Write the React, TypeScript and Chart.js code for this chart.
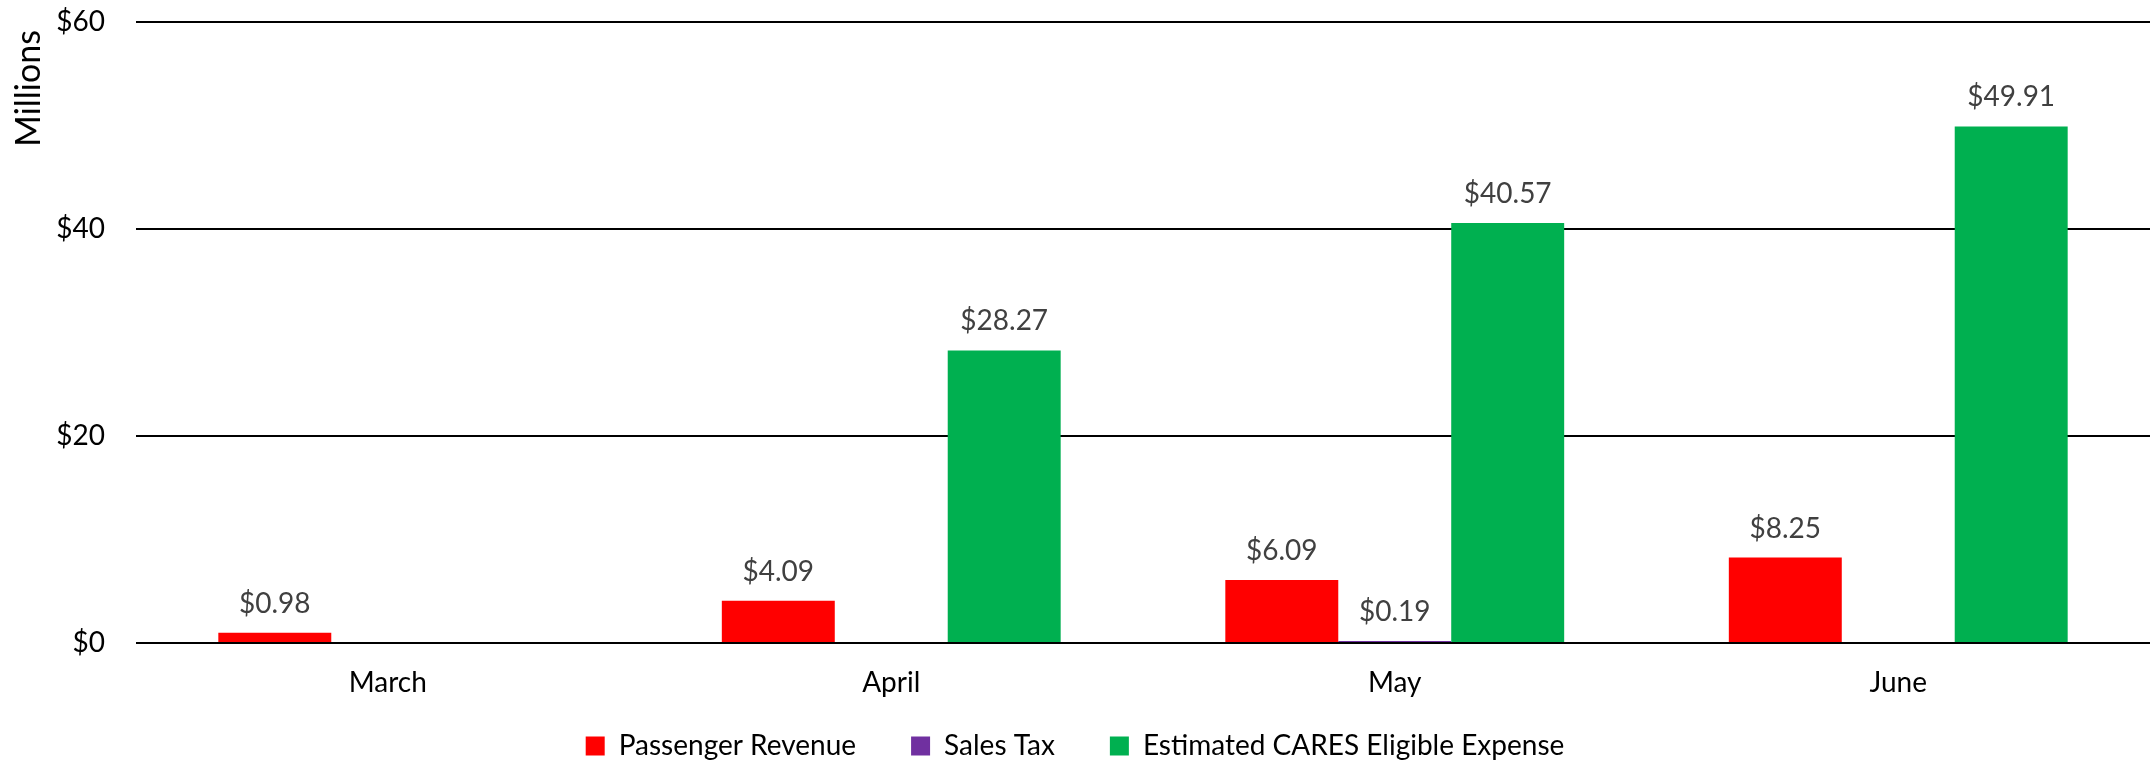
import React, { useEffect, useRef } from "react";
import { Chart, registerables } from "chart.js";

Chart.register(...registerables);

const categories = ["March", "April", "May", "June"];
const passengerRevenue = [0.98, 4.09, 6.09, 8.25];
const salesTax = [null, null, 0.19, null];
const caresExpense = [null, 28.27, 40.57, 49.91];
const seriesNames = ["Passenger Revenue", "Sales Tax", "Estimated CARES Eligible Expense"];
const seriesColors = ["#FF0000", "#7030A0", "#00B050"];
const yMin = 0;
const yMax = 60;
const yStep = 20;
const yTitle = "Millions";

const FONT = "Lato";
const W = 2153;
const H = 767;

const valueLabels = {
  id: "valueLabels",
  afterDatasetsDraw(chart: any) {
    const ctx = chart.ctx;
    ctx.save();
    ctx.font = `28px ${FONT}`;
    ctx.fillStyle = "#404040";
    ctx.textAlign = "center";
    ctx.textBaseline = "alphabetic";
    chart.data.datasets.forEach((ds: any, i: number) => {
      const meta = chart.getDatasetMeta(i);
      meta.data.forEach((bar: any, j: number) => {
        const v = ds.data[j];
        if (v == null) return;
        ctx.fillText("$" + Number(v).toFixed(2), bar.x, bar.y - 20);
      });
    });
    ctx.restore();
  },
};

const axisTitle = {
  id: "axisTitle",
  afterLayout(chart: any) {
    // let the category labels draw below the (shortened) x-axis box without clipping
    const xs = chart.scales.x;
    if (xs) xs.bottom = xs.top + 70;
  },
  afterDraw(chart: any) {
    const ctx = chart.ctx;
    ctx.save();
    ctx.translate(29, chart.chartArea.top + 8);
    ctx.rotate(-Math.PI / 2);
    ctx.font = `34px ${FONT}`;
    ctx.fillStyle = "#000";
    ctx.textAlign = "right";
    ctx.textBaseline = "middle";
    ctx.fillText(yTitle, 0, 0);
    ctx.restore();
  },
};

export default function App() {
  const ref = useRef<HTMLCanvasElement | null>(null);

  useEffect(() => {
    document.body.style.margin = "0";
    const canvas = ref.current;
    if (!canvas) return;
    const seriesData = [passengerRevenue, salesTax, caresExpense];
    const chart = new Chart(canvas, {
      type: "bar",
      data: {
        labels: categories,
        datasets: seriesNames.map((name, i) => ({
          label: name,
          data: seriesData[i] as any,
          backgroundColor: seriesColors[i],
          borderWidth: 0,
          categoryPercentage: 0.673,
          barPercentage: 1,
        })),
      },
      options: {
        animation: false,
        responsive: false,
        devicePixelRatio: 1,
        layout: { padding: { top: 22, right: 3, bottom: 0, left: 0 } },
        plugins: {
          tooltip: { enabled: false },
          title: { display: false },
          legend: {
            position: "bottom",
            maxHeight: 90,
            labels: {
              boxWidth: 19,
              boxHeight: 19,
              padding: 55,
              color: "#000",
              font: { family: FONT, size: 28 },
            },
          },
        },
        scales: {
          x: {
            grid: { display: false, drawTicks: false },
            border: { display: false },
            ticks: { color: "#000", font: { family: FONT, size: 28 }, padding: 23 },
            afterFit: (s: any) => {
              s.height = 34;
            },
          },
          y: {
            min: yMin,
            max: yMax,
            grid: { color: "#000", lineWidth: 2, drawTicks: false },
            border: { display: false },
            ticks: {
              stepSize: yStep,
              color: "#000",
              font: { family: FONT, size: 28 },
              padding: 31,
              callback: (v: any) => "$" + v,
            },
            afterFit: (s: any) => {
              s.width = 136;
              s.paddingTop = 0;
              s.paddingBottom = 0;
            },
          },
        },
      },
      plugins: [valueLabels, axisTitle],
    });
    return () => chart.destroy();
  }, []);

  return (
    <div style={{ position: "absolute", left: 0, top: 0, width: W, height: H }}>
      <canvas ref={ref} width={W} height={H} style={{ width: W, height: H, display: "block" }} />
    </div>
  );
}
